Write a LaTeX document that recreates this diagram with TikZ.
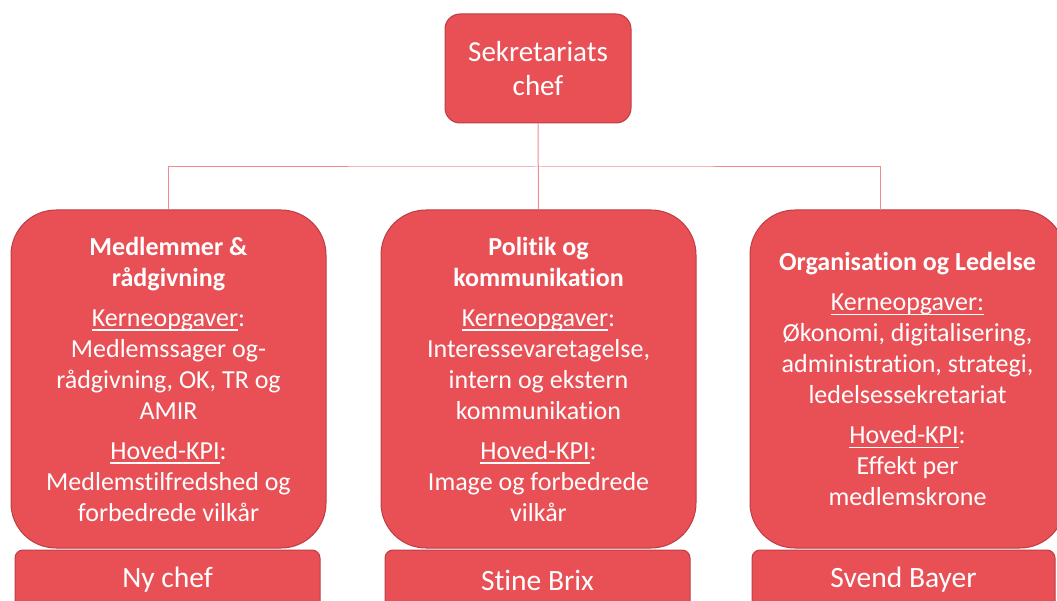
\documentclass[tikz,border=0pt]{standalone}
\usepackage{fontspec}
\setmainfont{Carlito}[Ligatures={NoCommon}]
\definecolor{boxred}{RGB}{232,80,86}
\definecolor{edgered}{RGB}{188,62,68}
\definecolor{linkred}{RGB}{240,140,144}
\newcommand{\keyword}[1]{\setbox0=\hbox{#1}\rlap{\rule[-4.5pt]{\wd0}{1.3pt}}\box0}
\newcommand{\areatitle}{\bfseries\fontsize{26}{31}\selectfont}
\begin{document}
\begin{tikzpicture}
      [x=1pt,y=-1pt,
      box/.style={draw=edgered,line width=1pt,fill=boxred,text=white,align=center},
      chef node/.style={box,rounded corners=15pt,minimum width=186pt,minimum height=109pt,font=\fontsize{29}{34}\selectfont},
      area node/.style={box,rounded corners=45pt,minimum width=315pt,minimum height=338pt,font=\fontsize{26}{31}\selectfont},
      lead node/.style={box,rounded corners=8pt,minimum height=60pt,font=\fontsize{29.5}{32}\selectfont},
      link/.style={draw=linkred,line width=1pt}]
      \useasboundingbox (0,0) rectangle (1057,601);
      \node[lead node,minimum width=305pt] (l1) at (167.5,580) {Ny chef};
      \node[lead node,minimum width=305pt] (l2) at (537.5,580) {Stine Brix};
      \node[lead node,minimum width=303pt] (l3) at (903.5,580) {Svend Bayer};
      \node[chef node] (chef) at (538,68.5) {Sekretariats\\chef};
      \node[area node] (a1) at (168.5,379) {{\areatitle Medlemmer \&}\\{\areatitle rådgivning}\\[9pt]
        \keyword{Kerneopgaver}:\\Medlemssager og-\\rådgivning, OK, TR og\\AMIR\\[9pt]
        \keyword{Hoved-KPI}:\\Medlemstilfredshed og\\forbedrede vilkår};
      \node[area node] (a2) at (538.5,379) {{\areatitle Politik og}\\{\areatitle kommunikation}\\[9pt]
        \keyword{Kerneopgaver}:\\Interessevaretagelse,\\intern og ekstern\\kommunikation\\[9pt]
        \keyword{Hoved-KPI}:\\Image og forbedrede\\vilkår};
      \node[area node] (a3) at (907.5,379) {{\areatitle Organisation og Ledelse}\\[9pt]
        \keyword{Kerneopgaver:}\\Økonomi, digitalisering,\\administration, strategi,\\ledelsessekretariat\\[9pt]
        \keyword{Hoved-KPI}:\\Effekt per\\medlemskrone};
      \coordinate (bus) at (538,167);
      \coordinate (drop3) at (880,210);
      \path[link] (chef.south) -- (a2.north);
      \path[link] (a1.north) |- (bus) -| (drop3);
    \end{tikzpicture}
\end{document}
